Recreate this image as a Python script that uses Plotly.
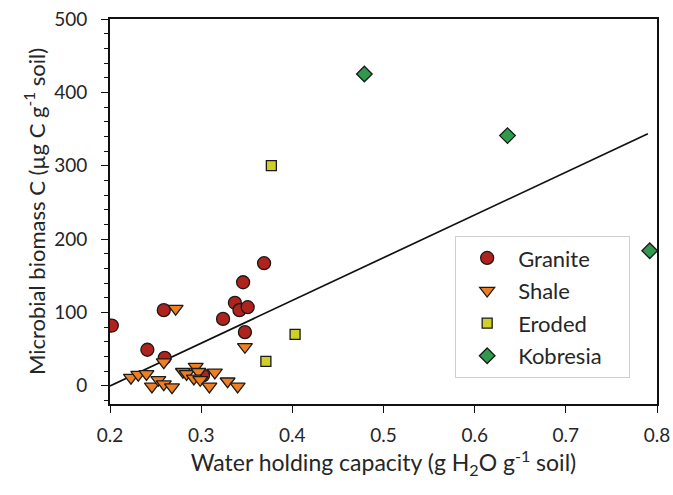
import plotly.graph_objects as go

# Water holding capacity (g H2O / g soil) and microbial biomass C (ug C / g soil)
granite_whc = [0.202, 0.259, 0.241, 0.260, 0.369, 0.346, 0.337, 0.342, 0.351, 0.324, 0.348, 0.302]
granite_mbc = [82, 103, 49, 38, 167, 141, 113, 103, 107, 91, 73, 14]

shale_whc = [0.272, 0.259, 0.348, 0.223, 0.231, 0.240, 0.246, 0.253, 0.259, 0.268,
             0.280, 0.284, 0.294, 0.297, 0.292, 0.299, 0.309, 0.315, 0.329, 0.340]
shale_mbc = [105, 32, 53, 11, 15, 16, -1, 8, 2, -2,
             19, 16, 26, 19, 10, 8, -1, 18, 6, -1]

eroded_whc = [0.377, 0.371, 0.403]
eroded_mbc = [300, 33, 70]

kobresia_whc = [0.479, 0.636, 0.792]
kobresia_mbc = [425, 341, 184]

# Linear fit across all sites
fit_slope = 583.0
fit_intercept = -117.0
fit_whc = [0.2, 0.79]
fit_mbc = [fit_slope * x + fit_intercept for x in fit_whc]

x_ticks = [0.2, 0.3, 0.4, 0.5, 0.6, 0.7, 0.8]
y_ticks = [0, 100, 200, 300, 400, 500]

FONT = "Lato"
TXT = "#262626"
EDGE = dict(color="#1a1a1a", width=1.3)
PAD = "\u00a0" * 4  # right padding inside the legend box

fig = go.Figure()

fig.add_trace(go.Scatter(
    x=fit_whc, y=fit_mbc, mode="lines",
    line=dict(color="#111111", width=1.7),
    showlegend=False, hoverinfo="skip",
))

series = [
    ("Granite", granite_whc, granite_mbc, "circle", "#b0231c", 13),
    ("Shale", shale_whc, shale_mbc, "triangle-down", "#f07f22", 13),
    ("Eroded", eroded_whc, eroded_mbc, "square", "#cfcf2a", 10),
    ("Kobresia", kobresia_whc, kobresia_mbc, "diamond", "#2f9a4c", 12),
]

for name, xs, ys, sym, col, size in series:
    fig.add_trace(go.Scatter(
        x=xs, y=ys, mode="markers", name=name + PAD,
        legendgroup=name,
        marker=dict(symbol=sym, color=col, size=size, line=EDGE),
    ))

fig.update_layout(
    width=673, height=495,
    margin=dict(l=110, r=16, t=19, b=91, autoexpand=False),
    paper_bgcolor="white", plot_bgcolor="white",
    font=dict(family=FONT, size=19, color=TXT),
    legend=dict(
        x=0.631, y=0.436, xanchor="left", yanchor="top",
        bgcolor="white", bordercolor="#d0d0d0", borderwidth=1,
        font=dict(family=FONT, size=22, color=TXT),
        tracegroupgap=1, itemwidth=52,
    ),
    showlegend=True,
)

fig.update_xaxes(
    range=[0.2, 0.8], tickvals=x_ticks,
    ticktext=[f"{v:.1f}" for v in x_ticks],
    ticks="outside", ticklen=7, tickwidth=1.3, tickcolor="#111111",
    ticklabelstandoff=6,
    showline=True, linecolor="#111111", linewidth=1.6, mirror=True,
    showgrid=False, zeroline=False, automargin=False,
    tickfont=dict(family=FONT, size=19, color=TXT),
    title=dict(text="Water holding capacity (g H<sub>2</sub>O g<sup>-1</sup> soil)",
               font=dict(family=FONT, size=23, color=TXT), standoff=9),
)

fig.update_yaxes(
    range=[-25, 500], tickvals=y_ticks,
    ticks="outside", ticklen=7, tickwidth=1.3, tickcolor="#111111",
    ticklabelstandoff=10,
    minor=dict(dtick=20, tick0=0, ticks="outside", ticklen=4, tickwidth=1.2,
               tickcolor="#111111", showgrid=False),
    showline=True, linecolor="#111111", linewidth=1.6, mirror=True,
    showgrid=False, zeroline=False, automargin=False,
    tickfont=dict(family=FONT, size=19, color=TXT),
    title=dict(text="Microbial biomass C (µg C g<sup>-1</sup> soil)",
               font=dict(family=FONT, size=22, color=TXT), standoff=3),
)

fig.write_html("out.html")
